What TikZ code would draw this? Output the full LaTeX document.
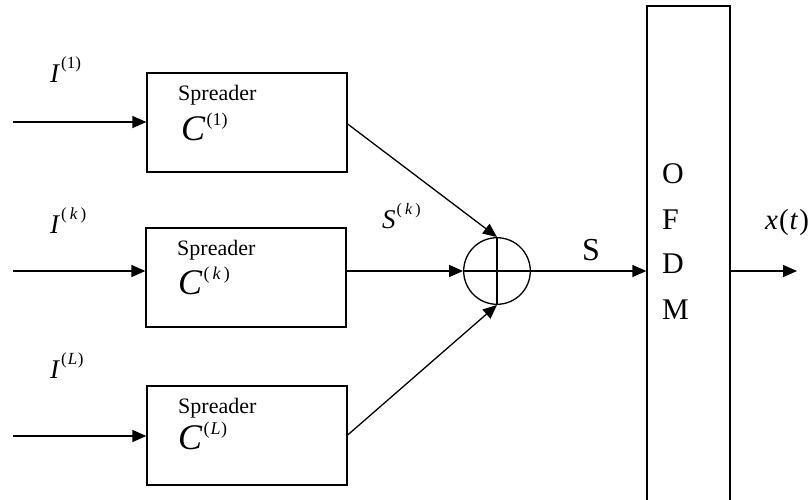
\documentclass[tikz,border=0pt]{standalone}
\usepackage{fontspec}
\setmainfont{Liberation Serif}
\usetikzlibrary{arrows.meta}
\newcommand\mysup[3][14pt]{\kern1pt\raisebox{#1}{\fontsize{#2}{#2}\selectfont #3}}
\newcommand\fs[1]{\fontsize{#1}{#1}\selectfont}
\newcommand\kk{(\kern3pt\textit{k}\kern3pt)}
\newcommand\LL{(\kern1pt\textit{L}\kern0.5pt)}
\begin{document}
\begin{tikzpicture}[x=1pt,y=-1pt,
  blk/.style={draw,line width=1.3pt,inner sep=0},
  arr/.style={line width=1.3pt,-{Triangle[length=14pt,width=12pt]}},
  lbl/.style={anchor=base west,inner sep=0}]
\useasboundingbox (0,0) rectangle (812,499);
% spreader boxes
\node[blk,minimum width=200pt,minimum height=99pt] (b1) at (247,122.5) {};
\node[blk,minimum width=200pt,minimum height=99pt] (b2) at (246,277.5) {};
\node[blk,minimum width=200pt,minimum height=99pt] (b3) at (247,435.5) {};
% inputs
\coordinate (i1) at (13,122);
\coordinate (i2) at (13,271);
\coordinate (i3) at (13,436);
\draw[arr] (i1) -- (b1.west |- i1);
\draw[arr] (i2) -- (b2.west |- i2);
\draw[arr] (i3) -- (b3.west |- i3);
% labels
\node[lbl] (l1) at (50,82) {\fs{27}\textit{I}\mysup{17}{(1)}};
\node[lbl] (l2) at (50,233) {\fs{27}\textit{I}\mysup{17}{\kk}};
\node[lbl] (l3) at (50,378) {\fs{27}\textit{I}\mysup{17}{\LL}};
\node[lbl] (s1) at (178,100) {\fs{22}Spreader};
\node[lbl] (c1) at (181,140) {\fs{36}\textit{C}\mysup[15pt]{18}{(1)}};
\node[lbl] (s2) at (177,255) {\fs{22}Spreader};
\node[lbl] (c2) at (178,294) {\fs{36}\textit{C}\mysup[15pt]{18}{\kk}};
\node[lbl] (s3) at (178,413) {\fs{22}Spreader};
\node[lbl] (c3) at (178,449) {\fs{36}\textit{C}\mysup[15pt]{18}{\LL}};
% adder
\node[draw,circle,line width=1.3pt,minimum size=66.6pt,inner sep=0] (add) at (497,271) {};
\draw[line width=1.3pt] (add.north) -- (add.south) (add.west) -- (add.east);
\draw[arr] (b1.east |- 0,124) -- (add.north);
\draw[arr] (b2.east |- add.west) -- (add.west);
\draw[arr] (b3.east |- 0,435) -- (add.south);
\node[lbl] (sk) at (382,228) {\fs{27}\textit{S}\mysup{16}{\kk}};
% OFDM
\node[blk,line width=1.3pt,minimum width=83pt,minimum height=500pt] (ofdm) at (688.5,256) {};
\draw[arr] (add.east) -- (ofdm.west |- add.east);
\node[lbl] (s) at (582,260) {\fs{32}S};
\node[lbl] (o) at (662,183) {\fs{30}O};
\node[lbl] (f) at (662,229) {\fs{30}F};
\node[lbl] (d) at (662,273) {\fs{30}D};
\node[lbl] (m) at (662,319) {\fs{30}M};
\coordinate (out) at (797,271);
\draw[arr] (ofdm.east |- out) -- (out);
\node[lbl] (xt) at (765,229) {\fs{29}\textit{x}\kern1pt(\kern1pt\textit{t}\kern1pt)};
\end{tikzpicture}
\end{document}
